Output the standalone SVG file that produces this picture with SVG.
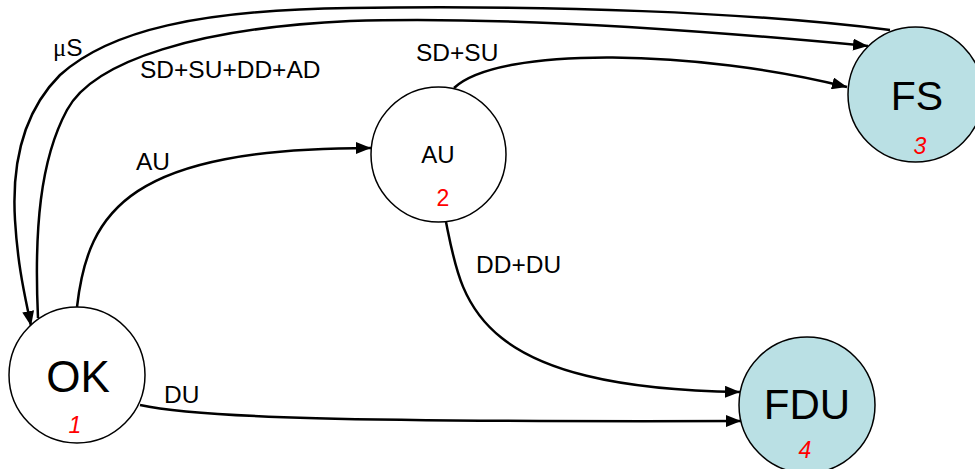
<svg xmlns="http://www.w3.org/2000/svg" width="975" height="469" viewBox="0 0 975 469">
  <style>
    .node { stroke: #000; stroke-width: 1.5; }
    .plain { fill: #fff; }
    .fail { fill: #bae0e4; }
    .edge { fill: none; stroke: #000; stroke-width: 2.5; }
    .lbl { font-family: "Liberation Sans", Arial, sans-serif; font-size: 24.5px; fill: #000; }
    .big { font-family: "Liberation Sans", Arial, sans-serif; fill: #000; text-anchor: middle; }
    .num { font-family: "Liberation Sans", Arial, sans-serif; font-size: 23px; fill: #ff0000; text-anchor: middle; }
  </style>
  <defs>
    <marker id="arr" markerUnits="userSpaceOnUse" markerWidth="16" markerHeight="12" refX="15" refY="6" orient="auto">
      <path d="M0,0 L15,6 L0,12 Z" fill="#000"/>
    </marker>
  </defs>
  <rect width="975" height="469" fill="#fff"/>
  <g id="connectors">
    <path class="edge" marker-end="url(#arr)" d="M 890 30 C 750 12, 550 5, 350 8 C 200 10, 110 30, 60 75 C 20 115, 12 170, 15 220 C 18 270, 26 300, 31 326"/>
    <path class="edge" marker-end="url(#arr)" d="M 38 318 C 34 230, 40 160, 67 110 C 94 60, 200 28, 350 21 C 500 16, 700 30, 868 46"/>
    <path class="edge" marker-end="url(#arr)" d="M 77 307 C 88 210, 130 148, 371 148"/>
    <path class="edge" marker-end="url(#arr)" d="M 454 88 C 500 45, 700 50, 847 87"/>
    <path class="edge" marker-end="url(#arr)" d="M 446 222 C 462 300, 470 388, 740 392"/>
    <path class="edge" marker-end="url(#arr)" d="M 140 405 C 200 418, 350 422, 741 421"/>
    <text class="lbl" x="53" y="56"><tspan style="font-family: 'Liberation Serif', serif;">μ</tspan>S</text>
    <text class="lbl" x="140" y="78">SD+SU+DD+AD</text>
    <text class="lbl" x="416" y="61">SD+SU</text>
    <text class="lbl" x="136" y="170">AU</text>
    <text class="lbl" x="476" y="273">DD+DU</text>
    <text class="lbl" x="164" y="403">DU</text>
  </g>
  <g id="node-ok">
    <circle class="node plain" cx="77" cy="375" r="68"/>
    <text class="big" x="78" y="392" style="font-size:44px">OK</text>
    <text class="num" x="75" y="433" style="font-style:italic">1</text>
  </g>
  <g id="node-au">
    <circle class="node plain" cx="438.5" cy="154.5" r="67.5"/>
    <text class="big" x="438" y="163" style="font-size:24px">AU</text>
    <text class="num" x="443" y="206">2</text>
  </g>
  <g id="node-fs">
    <circle class="node fail" cx="915.5" cy="94.5" r="67.5"/>
    <text class="big" x="917" y="110" style="font-size:41px">FS</text>
    <text class="num" x="920" y="154" style="font-style:italic">3</text>
  </g>
  <g id="node-fdu">
    <circle class="node fail" cx="807" cy="405" r="68"/>
    <text class="big" x="807" y="419" style="font-size:42px">FDU</text>
    <text class="num" x="805" y="458" style="font-style:italic">4</text>
  </g>
</svg>
